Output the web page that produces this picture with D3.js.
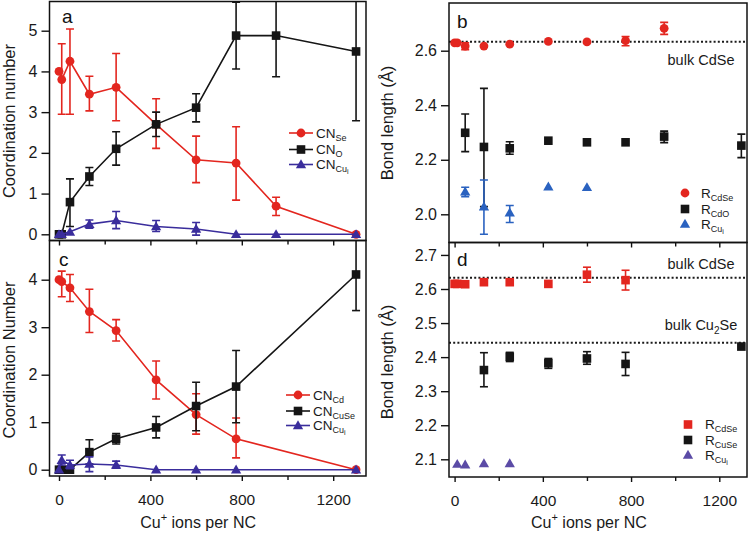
<!DOCTYPE html>
<html><head><meta charset="utf-8">
<script src="https://cdn.jsdelivr.net/npm/d3@7"></script>
<style>body{margin:0;background:#fff}svg{display:block;font-family:"Liberation Sans",Arial,Helvetica,sans-serif}</style>
</head><body><svg id="chart" width="748" height="534"></svg>
<script>
// ---------- DATA ----------
// Panel a (coordination numbers, Cd K-edge)
const xA = [0, 12, 48, 133, 250, 425, 600, 775, 950, 1300];
const cnSe   = [4.00, 3.80, 4.25, 3.44, 3.61, 2.70, 1.83, 1.75, 0.69, 0.00];
const cnSeHi = [null, 4.68, 5.04, 3.88, 4.44, 3.33, 2.41, 2.64, 0.91, null];
const cnSeLo = [null, 2.95, 2.95, 3.03, 2.79, 2.11, 1.27, 0.84, 0.46, null];
const cnO    = [0.00, 0.00, 0.79, 1.42, 2.10, 2.70, 3.11, 4.88, 4.88, 4.49];
const cnOHi  = [null, null, 1.36, 1.64, 2.52, 3.00, 3.45, 5.70, 5.89, 6.20];
const cnOLo  = [null, null, 0.19, 1.20, 1.70, 2.40, 2.76, 4.06, 3.87, 2.79];
const cnCuA   = [0.00, 0.00, 0.06, 0.25, 0.34, 0.19, 0.13, 0.00, 0.00, 0.00];
const cnCuAHi = [null, null, null, 0.35, 0.56, 0.34, 0.29, null, null, null];
const cnCuALo = [null, null, null, 0.15, 0.14, 0.07, -0.02, null, null, null];

// Panel c (coordination numbers, Se K-edge)
const xC = [0, 12, 48, 133, 250, 425, 600, 775, 1300];
const cnCd    = [4.00, 3.96, 3.83, 3.33, 2.93, 1.89, 1.16, 0.65, 0.00];
const cnCdHi  = [null, 4.18, 4.11, 3.80, 3.16, 2.29, 1.60, 1.09, null];
const cnCdLo  = [null, 3.64, 3.54, 2.89, 2.71, 1.49, 0.75, 0.25, null];
const cnCuSe   = [0.00, 0.00, 0.00, 0.37, 0.65, 0.89, 1.34, 1.75, 4.11];
const cnCuSeHi = [null, null, null, 0.63, 0.76, 1.12, 1.84, 2.51, 4.87];
const cnCuSeLo = [null, null, null, 0.12, 0.54, 0.67, 0.82, 0.99, 3.35];
const cnCuC   = [0.00, 0.20, 0.10, 0.12, 0.10, 0.00, 0.00, 0.00, 0.00];
const cnCuCHi = [null, 0.31, 0.20, 0.27, 0.18, null, null, null, null];
const cnCuCLo = [null, 0.10, 0.02, -0.04, 0.03, null, null, null, null];

// Panel b (bond lengths, Cd K-edge)
const xBcdse = [0, 12, 48, 133, 250, 425, 600, 775, 950];
const rCdSeB   = [2.629, 2.629, 2.617, 2.617, 2.624, 2.634, 2.632, 2.637, 2.682];
const rCdSeBHi = [null, null, 2.629, null, null, null, null, 2.652, 2.704];
const rCdSeBLo = [null, null, 2.604, null, null, null, null, 2.618, 2.660];
const xBcdo = [48, 133, 250, 425, 600, 775, 950, 1300];
const rCdO   = [2.299, 2.247, 2.242, 2.270, 2.264, 2.264, 2.285, 2.252];
const rCdOHi = [2.368, 2.462, 2.266, null, null, null, 2.305, 2.294];
const rCdOLo = [2.230, 2.028, 2.220, null, null, null, 2.263, 2.208];
const xBcu = [48, 133, 250, 425, 600];
const rCuB   = [2.083, 2.028, 2.006, 2.101, 2.099];
const rCuBHi = [2.099, 2.126, 2.032, null, null];
const rCuBLo = [2.065, 1.927, 1.970, null, null];

// Panel d (bond lengths, Se K-edge)
const xDcdse = [0, 12, 48, 133, 250, 425, 600, 775];
const rCdSeD   = [2.615, 2.615, 2.614, 2.620, 2.620, 2.615, 2.642, 2.626];
const rCdSeDHi = [null, null, null, null, null, null, 2.664, 2.655];
const rCdSeDLo = [null, null, null, null, null, null, 2.620, 2.597];
const xDcuse = [133, 250, 425, 600, 775, 1300];
const rCuSe   = [2.362, 2.401, 2.382, 2.396, 2.380, 2.431];
const rCuSeHi = [2.413, 2.414, 2.396, 2.416, 2.414, null];
const rCuSeLo = [2.313, 2.387, 2.367, 2.379, 2.346, null];
const xDcu = [12, 48, 133, 250];
const rCuD = [2.086, 2.084, 2.088, 2.088];

// reference lines
const bulkCdSe = 2.633;
const bulkCu2Se = 2.442;

// ticks
const xMajorTicks = [0, 400, 800, 1200];
const xMinorTicks = [200, 600, 1000];
const yTicksA = [0, 1, 2, 3, 4, 5];
const yTicksC = [0, 1, 2, 3, 4];
const yTicksB = [2.0, 2.2, 2.4, 2.6];
const yTicksD = [2.1, 2.2, 2.3, 2.4, 2.5, 2.6, 2.7];

// ---------- DRAW ----------
const RED = "#e3261f", BLK = "#151515", BLUE_AC = "#3a2d9c", BLUE_B = "#2a62c0", PURP_D = "#5b4ba6";
const svg = d3.select("#chart");
const defs = svg.append("defs");

function mkSeries(xs, ys, hi, lo) {
  return xs.map((x, i) => ({x, y: ys[i], hi: hi ? hi[i] : null, lo: lo ? lo[i] : null}));
}

function drawMarker(g, type, cx, cy, color) {
  if (type === "circle") {
    g.append("circle").attr("cx", cx).attr("cy", cy).attr("r", 4.4).attr("fill", color);
  } else if (type === "square") {
    g.append("rect").attr("x", cx - 4.3).attr("y", cy - 4.3).attr("width", 8.6).attr("height", 8.6).attr("fill", color);
  } else {
    g.append("path").attr("d", d3.symbol(d3.symbolTriangle, 46)()).attr("transform", `translate(${cx},${cy + 0.8})`).attr("fill", color);
  }
}

function makePanel(p) {
  const x = d3.scaleLinear().domain([0, 1200]).range(p.xRange);
  const y = d3.scaleLinear().domain(p.yDom).range(p.yRange);
  const id = "clip" + p.letter;
  defs.append("clipPath").attr("id", id).append("rect")
    .attr("x", p.L).attr("y", p.T).attr("width", p.R - p.L).attr("height", p.B - p.T);
  const g = svg.append("g");
  const data = g.append("g").attr("clip-path", `url(#${id})`);

  (p.refs || []).forEach(r => {
    data.append("line").attr("x1", p.L).attr("x2", p.R).attr("y1", y(r)).attr("y2", y(r))
      .attr("stroke", "#1a1a1a").attr("stroke-width", 2).attr("stroke-dasharray", "2,2.2");
  });

  p.series.forEach(s => {
    const sg = data.append("g");
    if (s.line) {
      sg.append("path").datum(s.data)
        .attr("d", d3.line().x(d => x(d.x)).y(d => y(d.y)))
        .attr("fill", "none").attr("stroke", s.color).attr("stroke-width", 1.6);
    }
    s.data.forEach(d => {
      if (d.hi != null) {
        const xx = x(d.x), y1 = y(d.hi), y2 = y(d.lo);
        sg.append("line").attr("x1", xx).attr("x2", xx).attr("y1", y1).attr("y2", y2)
          .attr("stroke", s.color).attr("stroke-width", 1.6);
        [y1, y2].forEach(yy => sg.append("line").attr("x1", xx - 4).attr("x2", xx + 4)
          .attr("y1", yy).attr("y2", yy).attr("stroke", s.color).attr("stroke-width", 1.6));
      }
    });
    s.data.forEach(d => drawMarker(sg, s.marker, x(d.x), y(d.y), s.color));
  });

  g.append("rect").attr("x", p.L).attr("y", p.T).attr("width", p.R - p.L).attr("height", p.B - p.T)
    .attr("fill", "none").attr("stroke", "#111").attr("stroke-width", 1.5);

  const ya = g.append("g").attr("transform", `translate(${p.L},0)`)
    .call(d3.axisLeft(y).tickValues(p.yTicks).tickFormat(p.yFmt).tickSize(8).tickPadding(4));
  ya.select(".domain").remove();
  ya.selectAll("line").attr("stroke", "#111").attr("stroke-width", 1.4);
  ya.selectAll("text").attr("font-size", 16).attr("fill", "#1a1a1a");

  const xa = g.append("g").attr("transform", `translate(0,${p.B})`)
    .call(d3.axisBottom(x).tickValues(xMajorTicks).tickSize(5).tickPadding(13)
      .tickFormat(p.xLabels ? d3.format("d") : () => ""));
  xa.select(".domain").remove();
  xa.selectAll("line").attr("stroke", "#111").attr("stroke-width", 1.4);
  xa.selectAll("text").attr("font-size", 15.5).attr("fill", "#1a1a1a");
  const xm = g.append("g").attr("transform", `translate(0,${p.B})`)
    .call(d3.axisBottom(x).tickValues(xMinorTicks).tickSize(4).tickFormat(() => ""));
  xm.select(".domain").remove();
  xm.selectAll("line").attr("stroke", "#111").attr("stroke-width", 1.4);

  if (p.xLabels) {
    const t = g.append("text").attr("x", (x(0) + x(1200)) / 2 + 2).attr("y", 528)
      .attr("text-anchor", "middle").attr("font-size", 16).attr("fill", "#1a1a1a");
    t.append("tspan").text("Cu");
    t.append("tspan").text("+").attr("font-size", 11).attr("dy", -7);
    t.append("tspan").text(" ions per NC").attr("dy", 7);
  }

  g.append("text").attr("transform", `translate(${p.yTitleX},${p.yTitleY}) rotate(-90)`)
    .attr("text-anchor", "middle").attr("font-size", 16.5).attr("fill", "#1a1a1a").text(p.yTitle);

  g.append("text").attr("x", p.letterX).attr("y", p.letterY).attr("font-size", 19)
    .attr("fill", "#111").text(p.letter);

  p.legend.items.forEach((it, i) => {
    const ly = p.legend.ys[i];
    const lx = p.legend.x;
    if (p.legend.line) {
      g.append("line").attr("x1", lx - 12).attr("x2", lx + 12).attr("y1", ly).attr("y2", ly)
        .attr("stroke", it.color).attr("stroke-width", 1.6);
    }
    drawMarker(g, it.marker, lx, ly, it.color);
    const t = g.append("text").attr("x", p.legend.tx).attr("y", ly + 4.5)
      .attr("font-size", 13.5).attr("fill", "#1a1a1a");
    t.append("tspan").text(it.main);
    t.append("tspan").text(it.sub).attr("font-size", 9).attr("dy", 3);
    if (it.sub2) t.append("tspan").text(it.sub2).attr("font-size", 7).attr("dy", 2);
  });

  (p.notes || []).forEach(n => {
    const t = g.append("text").attr("x", n.x).attr("y", n.y).attr("text-anchor", "middle")
      .attr("font-size", 14.5).attr("fill", "#1a1a1a");
    n.parts.forEach(pt => {
      const ts = t.append("tspan").text(pt.t);
      if (pt.sub) ts.attr("font-size", 10).attr("dy", 4);
      if (pt.back) ts.attr("dy", -4);
    });
  });
}

const fmt1 = d3.format(".1f");

makePanel({
  letter: "a", L: 49.5, R: 366, T: 1.5, B: 240.5,
  xRange: [59, 333.2], yDom: [0, 5], yRange: [234.3, 30.7],
  yTicks: yTicksA, yFmt: d3.format("d"), xLabels: false,
  yTitle: "Coordination number", yTitleX: 15, yTitleY: 121,
  letterX: 62, letterY: 23,
  series: [
    {color: RED, marker: "circle", line: true, data: mkSeries(xA, cnSe, cnSeHi, cnSeLo)},
    {color: BLK, marker: "square", line: true, data: mkSeries(xA, cnO, cnOHi, cnOLo)},
    {color: BLUE_AC, marker: "triangle", line: true, data: mkSeries(xA, cnCuA, cnCuAHi, cnCuALo)}
  ],
  legend: {x: 301, tx: 316, ys: [133, 149.5, 164.5], line: true, items: [
    {color: RED, marker: "circle", main: "CN", sub: "Se"},
    {color: BLK, marker: "square", main: "CN", sub: "O"},
    {color: BLUE_AC, marker: "triangle", main: "CN", sub: "Cu", sub2: "i"}
  ]}
});

makePanel({
  letter: "c", L: 49.5, R: 366, T: 240.5, B: 476,
  xRange: [59, 333.2], yDom: [0, 4], yRange: [469.7, 279.7],
  yTicks: yTicksC, yFmt: d3.format("d"), xLabels: true,
  yTitle: "Coordination Number", yTitleX: 15, yTitleY: 360,
  letterX: 59, letterY: 266,
  series: [
    {color: RED, marker: "circle", line: true, data: mkSeries(xC, cnCd, cnCdHi, cnCdLo)},
    {color: BLK, marker: "square", line: true, data: mkSeries(xC, cnCuSe, cnCuSeHi, cnCuSeLo)},
    {color: BLUE_AC, marker: "triangle", line: true, data: mkSeries(xC, cnCuC, cnCuCHi, cnCuCLo)}
  ],
  legend: {x: 298, tx: 313, ys: [395, 411, 425.5], line: true, items: [
    {color: RED, marker: "circle", main: "CN", sub: "Cd"},
    {color: BLK, marker: "square", main: "CN", sub: "CuSe"},
    {color: BLUE_AC, marker: "triangle", main: "CN", sub: "Cu", sub2: "i"}
  ]}
});

makePanel({
  letter: "b", L: 449, R: 747, T: 3, B: 242.5,
  xRange: [454.6, 719.3], yDom: [2.0, 2.6], yRange: [214.3, 50.7],
  yTicks: yTicksB, yFmt: fmt1, xLabels: false,
  yTitle: "Bond length (Å)", yTitleX: 393, yTitleY: 123,
  letterX: 457, letterY: 28,
  refs: [bulkCdSe],
  notes: [{x: 701, y: 65, parts: [{t: "bulk CdSe"}]}],
  series: [
    {color: RED, marker: "circle", data: mkSeries(xBcdse, rCdSeB, rCdSeBHi, rCdSeBLo)},
    {color: BLK, marker: "square", data: mkSeries(xBcdo, rCdO, rCdOHi, rCdOLo)},
    {color: BLUE_B, marker: "triangle", data: mkSeries(xBcu, rCuB, rCuBHi, rCuBLo)}
  ],
  legend: {x: 685, tx: 701, ys: [193, 209, 224], line: false, items: [
    {color: RED, marker: "circle", main: "R", sub: "CdSe"},
    {color: BLK, marker: "square", main: "R", sub: "CdO"},
    {color: BLUE_B, marker: "triangle", main: "R", sub: "Cu", sub2: "i"}
  ]}
});

makePanel({
  letter: "d", L: 449, R: 747, T: 242.5, B: 477,
  xRange: [454.6, 719.3], yDom: [2.1, 2.6], yRange: [459.3, 289],
  yTicks: yTicksD, yFmt: fmt1, xLabels: true,
  yTitle: "Bond length (Å)", yTitleX: 393, yTitleY: 362,
  letterX: 457, letterY: 266,
  refs: [bulkCdSe, bulkCu2Se],
  notes: [{x: 701, y: 269, parts: [{t: "bulk CdSe"}]},
          {x: 701, y: 330, parts: [{t: "bulk Cu"}, {t: "2", sub: true}, {t: "Se", back: true}]}],
  series: [
    {color: RED, marker: "square", data: mkSeries(xDcdse, rCdSeD, rCdSeDHi, rCdSeDLo)},
    {color: BLK, marker: "square", data: mkSeries(xDcuse, rCuSe, rCuSeHi, rCuSeLo)},
    {color: PURP_D, marker: "triangle", data: mkSeries(xDcu, rCuD)}
  ],
  legend: {x: 688, tx: 705, ys: [424.5, 440, 455], line: false, items: [
    {color: RED, marker: "square", main: "R", sub: "CdSe"},
    {color: BLK, marker: "square", main: "R", sub: "CuSe"},
    {color: PURP_D, marker: "triangle", main: "R", sub: "Cu", sub2: "i"}
  ]}
});
</script>
</body></html>
